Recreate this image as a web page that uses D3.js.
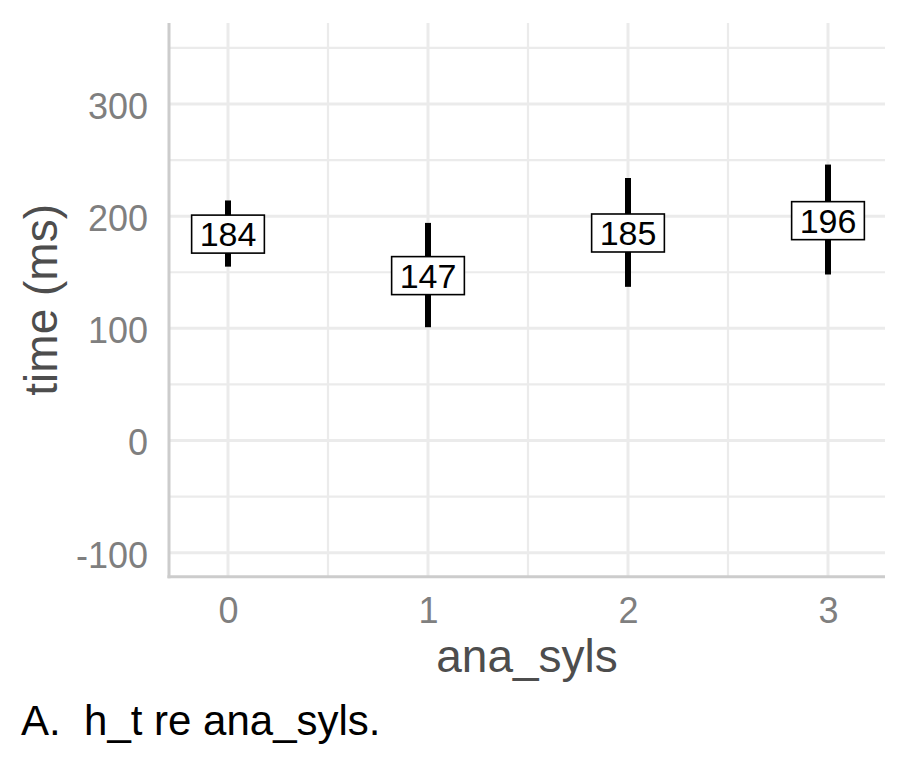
<!DOCTYPE html>
<html>
<head>
<meta charset="utf-8">
<script src="https://cdn.jsdelivr.net/npm/d3@7"></script>
<style>
  html, body { margin: 0; padding: 0; background: #fff; }
  svg { display: block; font-family: "Liberation Sans", Arial, sans-serif; }
</style>
</head>
<body>
<svg id="chart" width="909" height="767"></svg>
<script>
// ---- data ----
const categories = [0, 1, 2, 3];
const means = [184, 147, 185, 196];
const lower = [155, 101, 137, 148];
const upper = [214, 194, 234, 246];
const yTicks = [-100, 0, 100, 200, 300];
const yMinor = [-50, 50, 150, 250, 350];
const xTicks = [0, 1, 2, 3];
const xMinor = [0.5, 1.5, 2.5];
const xTitle = "ana_syls";
const yTitle = "time (ms)";
const caption = "A.  h_t re ana_syls.";

// ---- layout ----
const panel = { left: 169, right: 885, top: 23, bottom: 576.7 };

const svg = d3.select("#chart");
const x = d3.scaleLinear().domain([-0.295, 3.285]).range([panel.left, panel.right]);
const y = d3.scaleLinear().domain([-121.4, 372.2]).range([panel.bottom, panel.top]);

const grid = svg.append("g");
grid.selectAll(".ymin").data(yMinor).join("line")
  .attr("x1", panel.left).attr("x2", panel.right)
  .attr("y1", d => y(d)).attr("y2", d => y(d))
  .attr("stroke", "#ebebeb").attr("stroke-width", 2.2);
grid.selectAll(".xmin").data(xMinor).join("line")
  .attr("y1", panel.top).attr("y2", panel.bottom)
  .attr("x1", d => x(d)).attr("x2", d => x(d))
  .attr("stroke", "#ebebeb").attr("stroke-width", 2.2);
grid.selectAll(".ymaj").data(yTicks).join("line")
  .attr("x1", panel.left).attr("x2", panel.right)
  .attr("y1", d => y(d)).attr("y2", d => y(d))
  .attr("stroke", "#ebebeb").attr("stroke-width", 3);
grid.selectAll(".xmaj").data(xTicks).join("line")
  .attr("y1", panel.top).attr("y2", panel.bottom)
  .attr("x1", d => x(d)).attr("x2", d => x(d))
  .attr("stroke", "#ebebeb").attr("stroke-width", 3);

// axis lines
svg.append("line")
  .attr("x1", panel.left).attr("x2", panel.left)
  .attr("y1", panel.top).attr("y2", panel.bottom + 1.5)
  .attr("stroke", "#cccccc").attr("stroke-width", 3);
svg.append("line")
  .attr("x1", panel.left - 1.5).attr("x2", panel.right)
  .attr("y1", panel.bottom).attr("y2", panel.bottom)
  .attr("stroke", "#cccccc").attr("stroke-width", 3);

const fmt = d => String(d);

const yAxis = svg.append("g")
  .attr("transform", `translate(${panel.left},0)`)
  .call(d3.axisLeft(y).tickValues(yTicks).tickSize(0).tickPadding(21).tickFormat(fmt));
yAxis.select(".domain").remove();
yAxis.selectAll("text")
  .attr("dy", "0.4em")
  .attr("fill", "#7f7f7f")
  .style("font-size", "36px")
  .style("font-family", "'Liberation Sans', Arial, sans-serif");

const xAxis = svg.append("g")
  .attr("transform", `translate(0,${panel.bottom})`)
  .call(d3.axisBottom(x).tickValues(xTicks).tickSize(0).tickPadding(21).tickFormat(fmt));
xAxis.select(".domain").remove();
xAxis.selectAll("text")
  .attr("fill", "#7f7f7f")
  .style("font-size", "36px")
  .style("font-family", "'Liberation Sans', Arial, sans-serif");

// axis titles
svg.append("text")
  .attr("x", (panel.left + panel.right) / 2)
  .attr("y", 672)
  .attr("text-anchor", "middle")
  .attr("fill", "#4d4d4d")
  .style("font-size", "46px")
  .text(xTitle);

svg.append("text")
  .attr("transform", `translate(57,${(panel.top + panel.bottom) / 2}) rotate(-90)`)
  .attr("text-anchor", "middle")
  .attr("fill", "#4d4d4d")
  .style("font-size", "46px")
  .text(yTitle);

// error bars
const marks = svg.append("g");
marks.selectAll(".err").data(categories).join("line")
  .attr("x1", d => x(d)).attr("x2", d => x(d))
  .attr("y1", (d, i) => y(lower[i])).attr("y2", (d, i) => y(upper[i]))
  .attr("stroke", "#000").attr("stroke-width", 6);

// labels
const fs = 34;
const lab = marks.selectAll(".lab").data(categories).join("g")
  .attr("transform", (d, i) => `translate(${x(d)},${y(means[i])})`);
lab.append("text")
  .attr("text-anchor", "middle")
  .attr("y", fs * 0.36)
  .style("font-size", fs + "px")
  .attr("fill", "#000")
  .text((d, i) => means[i]);
lab.each(function() {
  const g = d3.select(this);
  const bb = g.select("text").node().getBBox();
  const w = bb.width + 16, h = 38;
  g.insert("rect", "text")
    .attr("x", -w / 2).attr("y", -h / 2)
    .attr("width", w).attr("height", h)
    .attr("fill", "#fff").attr("stroke", "#000").attr("stroke-width", 1.6);
});

// caption
svg.append("text")
  .attr("x", 21)
  .attr("y", 735)
  .attr("fill", "#000")
  .attr("xml:space", "preserve")
  .style("white-space", "pre")
  .style("font-size", "42px")
  .text(caption);
</script>
</body>
</html>
